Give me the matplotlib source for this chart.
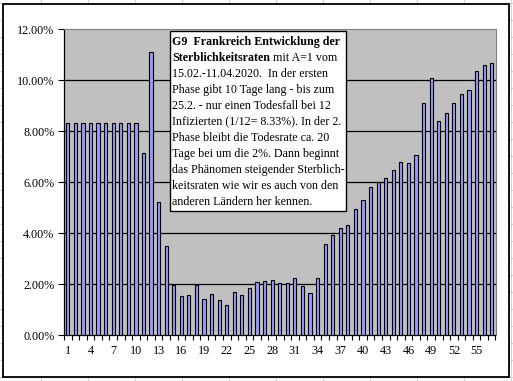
import matplotlib
matplotlib.use("Agg")
import matplotlib.pyplot as plt
from matplotlib.patches import Rectangle
from matplotlib.lines import Line2D
import numpy as np

# ---- data ----
days = list(range(1, 58))
rates = [8.33, 8.33, 8.33, 8.33, 8.33, 8.33, 8.33, 8.33, 8.33, 8.33,
         7.14, 11.11, 5.24, 3.49, 1.97, 1.54, 1.57, 1.96, 1.41, 1.61,
         1.37, 1.18, 1.69, 1.57, 1.84, 2.10, 2.12, 2.16, 2.04, 2.04,
         2.24, 1.92, 1.65, 2.24, 3.57, 3.92, 4.20, 4.31, 4.94, 5.29,
         5.80, 6.03, 6.16, 6.47, 6.78, 6.75, 7.06, 9.10, 10.10, 8.39,
         8.71, 9.10, 9.45, 9.61, 10.35, 10.59, 10.67]
y_ticks = [0, 2, 4, 6, 8, 10, 12]
x_label_days = list(range(1, 58, 3))

title_bold = "G9  Frankreich Entwicklung der"
line2_bold = "Sterblichkeitsraten"
line2_rest = " mit A=1 vom"
body_lines = [
    "15.02.-11.04.2020.  In der ersten",
    "Phase gibt 10 Tage lang - bis zum",
    "25.2. - nur einen Todesfall bei 12",
    "Infizierten (1/12= 8.33%). In der 2.",
    "Phase bleibt die Todesrate ca. 20",
    "Tage bei um die 2%. Dann beginnt",
    "das Phänomen steigender Sterblich-",
    "keitsraten wie wir es auch von den",
    "anderen Ländern her kennen.",
]

W, H = 513, 381
FONT = "Liberation Serif"
fig = plt.figure(figsize=(W / 100, H / 100), dpi=100)
fig.patch.set_facecolor("white")

def fx(x):
    return x / W

def fy(y):
    return 1 - y / H

# faint spreadsheet grid in the background
for gx in np.arange(40.7, W, 47):
    fig.add_artist(Line2D([fx(gx), fx(gx)], [0, 1], color="#d4d4d4", lw=0.8, zorder=0))
for gy in np.arange(3, H, 17):
    fig.add_artist(Line2D([0, 1], [fy(gy), fy(gy)], color="#d4d4d4", lw=0.8, zorder=0))

# chart area frame
fig.add_artist(Rectangle((fx(3), fy(377)), fx(506), 373 / H, facecolor="white",
                         edgecolor="black", lw=1.3, zorder=0.5))

# plot area
left, right, top, bottom = 64, 495.5, 29.3, 335.3
ax = fig.add_axes([fx(left), fy(bottom), (right - left) / W, (bottom - top) / H])
ax.set_zorder(1)
ax.set_facecolor("#c0c0c0")

ax.bar(days, rates, width=0.42, color="#9999ff", edgecolor="black", linewidth=0.8, zorder=3)

ax.set_xlim(0.5, 57.5)
ax.set_ylim(0, 12)
ax.set_yticks(y_ticks)
ax.set_yticklabels([f"{v:.2f}%" for v in y_ticks], fontfamily=FONT, fontsize=8.7)
for v in y_ticks[1:-1]:
    ax.axhline(v, color="black", lw=0.9, zorder=2)

ax.set_xticks(np.arange(0.5, 58, 1))
ax.set_xticklabels([])
ax.set_xticks(x_label_days, minor=True)
ax.set_xticklabels([str(d) for d in x_label_days], minor=True, fontfamily=FONT, fontsize=8.7)
ax.tick_params(axis="x", which="major", length=3.5, width=0.8, direction="out")
ax.tick_params(axis="x", which="minor", length=0, pad=7)
ax.tick_params(axis="y", length=4, width=0.8, direction="out", pad=3)

for s in ["top", "right"]:
    ax.spines[s].set_color("#808080")
    ax.spines[s].set_linewidth(0.8)
for s in ["left", "bottom"]:
    ax.spines[s].set_color("black")
    ax.spines[s].set_linewidth(0.9)

# text box
bx0, by0, bx1, by1 = 169.5, 31, 345.5, 210.5
fig.add_artist(Rectangle((fx(bx0), fy(by1)), (bx1 - bx0) / W, (by1 - by0) / H,
                         facecolor="white", edgecolor="black", lw=1.0, zorder=5))
fs = 8.65
tx = 172.5
base = 44.5
step = 16.03
fig.text(fx(tx), fy(base), title_bold, fontfamily=FONT, fontweight="bold",
         fontsize=fs, va="baseline", ha="left", zorder=6)
t2 = fig.text(fx(tx), fy(base + step), line2_bold, fontfamily=FONT, fontweight="bold",
              fontsize=fs, va="baseline", ha="left", zorder=6)
renderer = fig.canvas.get_renderer()
ext = t2.get_window_extent(renderer=renderer)
fig.text(ext.x1 / W, fy(base + step), line2_rest, fontfamily=FONT,
         fontsize=fs, va="baseline", ha="left", zorder=6)
for i, line in enumerate(body_lines):
    fig.text(fx(tx), fy(base + step * (i + 2)), line, fontfamily=FONT,
             fontsize=fs, va="baseline", ha="left", zorder=6)

fig.savefig("out.png", dpi=100)
